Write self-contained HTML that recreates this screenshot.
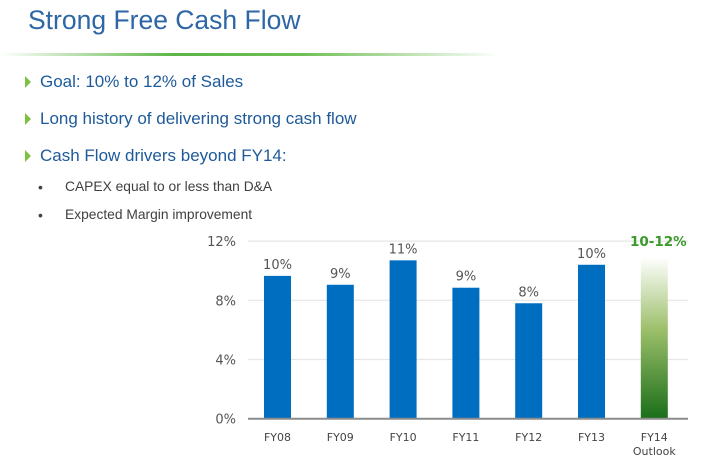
<!DOCTYPE html>
<html><head><meta charset="utf-8"><style>
body{margin:0;width:712px;height:464px;background:#fff;overflow:hidden;font-family:"Liberation Sans",sans-serif;position:relative}
.t{position:absolute;white-space:nowrap}
.title{left:28px;top:5px;font-size:26.5px;color:#2e66a6}
.rule{position:absolute;left:0;top:53px;width:500px;height:3px;background:linear-gradient(90deg,rgba(120,190,90,0),#5cb545 35%,#6fbf55 60%,rgba(160,210,140,0) 100%)}
.b{left:40px;font-size:17px;color:#1e5a9a}
.tri{position:absolute;left:25px;width:0;height:0;border-top:6px solid transparent;border-bottom:6px solid transparent;border-left:6px solid #7dc142}
.s{left:65px;font-size:13.8px;color:#404040}
.dot{left:38px;font-size:14px;color:#404040}
</style></head><body>
<div class="t title">Strong Free Cash Flow</div>
<div class="rule"></div>
<div class="tri" style="top:76px"></div>
<div class="t b" style="top:72px">Goal: 10% to 12% of Sales</div>
<div class="tri" style="top:113px"></div>
<div class="t b" style="top:109px">Long history of delivering strong cash flow</div>
<div class="tri" style="top:150px"></div>
<div class="t b" style="top:146px">Cash Flow drivers beyond FY14:</div>
<div class="t dot" style="top:179px">•</div>
<div class="t s" style="top:179px">CAPEX equal to or less than D&amp;A</div>
<div class="t dot" style="top:207px">•</div>
<div class="t s" style="top:207px">Expected Margin improvement</div>
<svg id="chart" width="712" height="464" style="position:absolute;left:0;top:0">
<defs><linearGradient id="g" x1="0" y1="0" x2="0" y2="1"><stop offset="0" stop-color="#ffffff"/><stop offset="0.45" stop-color="#9cbf6a"/><stop offset="1" stop-color="#1a6e1a"/></linearGradient></defs>
</svg>
<script>
const categories=["FY08","FY09","FY10","FY11","FY12","FY13","FY14"];
const values=[9.65,9.05,10.7,8.85,7.8,10.4,10.9];
const valueLabels=["10%","9%","11%","9%","8%","10%","10-12%"];
const ticks=[0,4,8,12];
const tickLabels=["0%","4%","8%","12%"];
const svg=document.getElementById('chart');
const NS='http://www.w3.org/2000/svg';
const y0=418.7,pxPer=14.8;
function y(v){return y0-v*pxPer;}
function x(i){return 277.5+i*62.8;}
function mk(tag,attrs,txt){const e=document.createElementNS(NS,tag);for(const k in attrs)e.setAttribute(k,attrs[k]);if(txt!=null)e.textContent=txt;svg.appendChild(e);return e;}
ticks.forEach((t,i)=>{
  if(t>0){const g=mk('line',{x1:248,x2:688,y1:y(t),y2:y(t),stroke:'#e6e6e6','stroke-width':1.2});
  
  }
  const l=mk('text',{x:236,y:y(t)+5,'text-anchor':'end','font-size':13,fill:'#555','font-family':'DejaVu Sans, sans-serif'},tickLabels[i]);
  
  
});
categories.forEach((c,i)=>{
  const last=i===categories.length-1;
  const r=mk('rect',{x:x(i)-13.5,y:y(values[i]),width:27,height:y0-y(values[i]),fill:last?'url(#g)':'#006ec0'});
  
  
  const vl=mk('text',{x:last?x(i)+4:x(i),y:last?y(12)+5:y(values[i])-7,'text-anchor':'middle','font-size':last?13.5:13,'font-weight':last?'bold':'normal',fill:last?'#3a9a2a':'#555','font-family':'DejaVu Sans, sans-serif'},valueLabels[i]);
  
  
  const xl=mk('text',{x:x(i),y:441,'text-anchor':'middle','font-size':11,fill:'#444','font-family':'DejaVu Sans, sans-serif'},c);
  
  
  if(last){const o=mk('text',{x:x(i),y:455,'text-anchor':'middle','font-size':11,fill:'#444','font-family':'DejaVu Sans, sans-serif'},'Outlook');
  
  }
});
const ax=mk('line',{x1:248,x2:688,y1:y0,y2:y0,stroke:'#8c8c8c','stroke-width':2});


</script>
</body></html>
